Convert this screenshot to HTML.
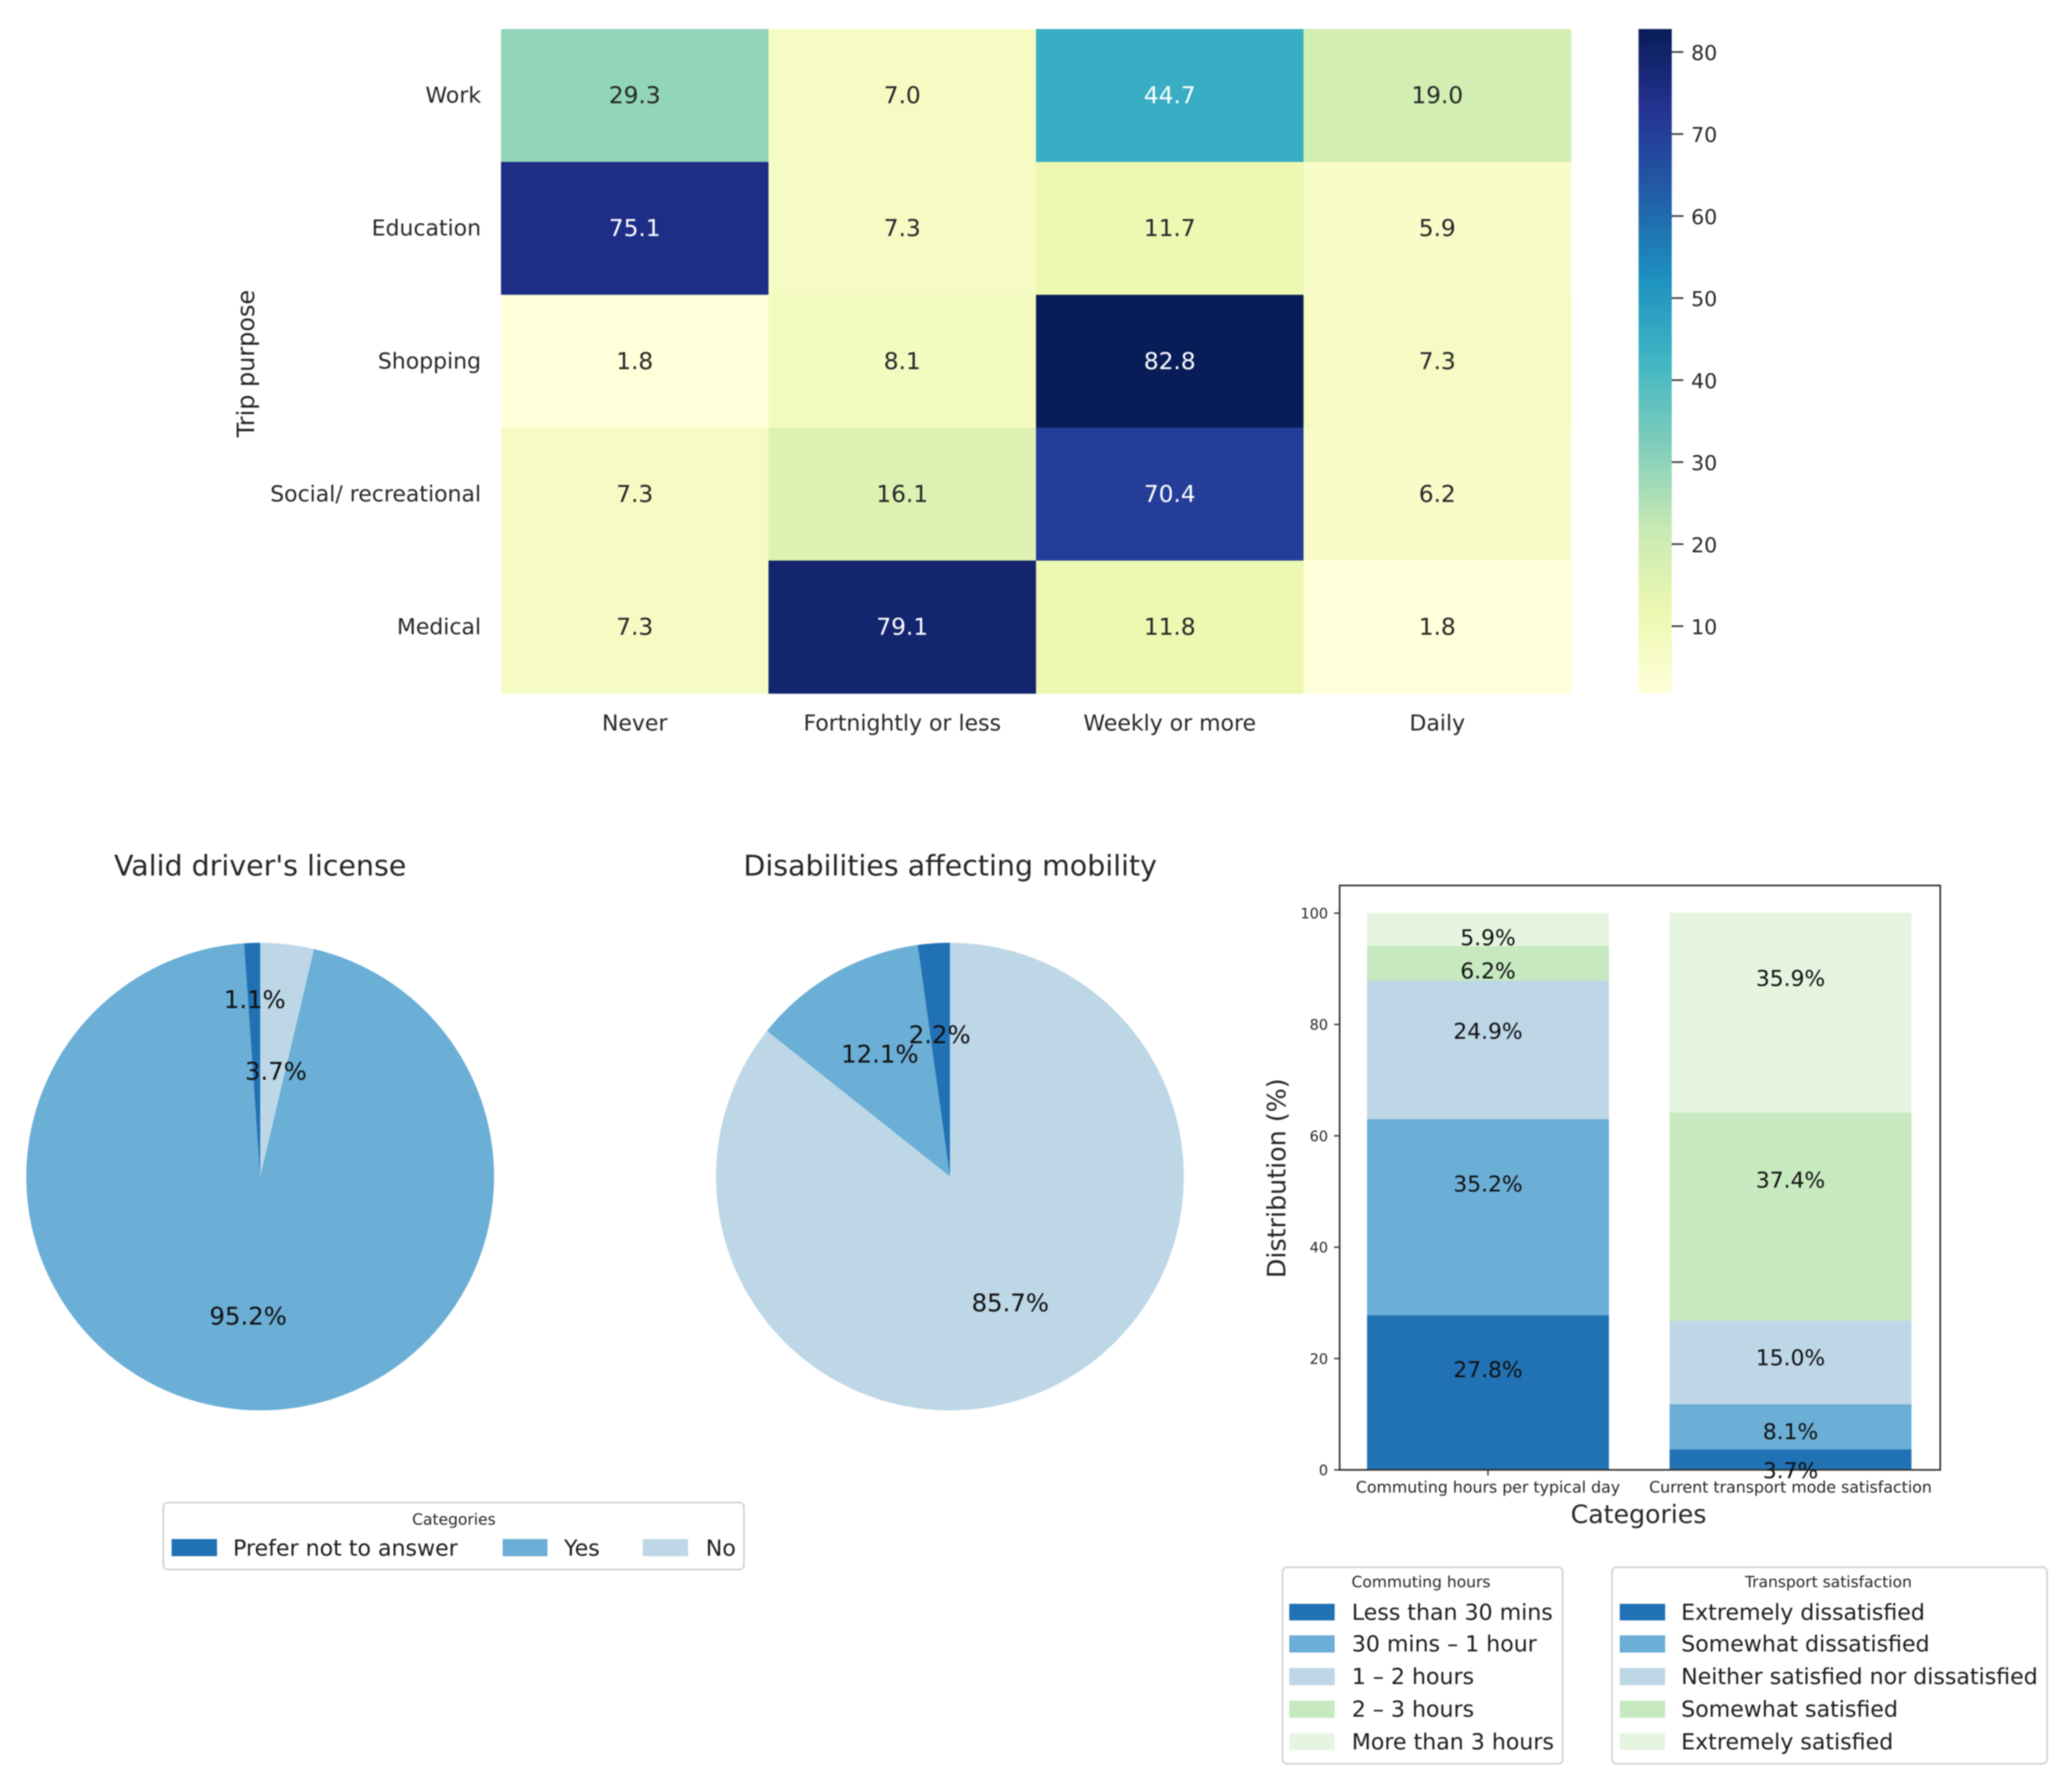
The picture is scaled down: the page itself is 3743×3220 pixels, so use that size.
<!DOCTYPE html>
<html lang="en">
<head>
<meta charset="utf-8">
<title>Trip purpose, license, disability, commuting and satisfaction charts</title>
<style>
html,body{margin:0;padding:0;background:#fff;}
svg{display:block;filter:blur(1px);}
text{font-family:"DejaVu Sans","Liberation Sans",sans-serif;fill:#262626;text-rendering:geometricPrecision;}
.leg{font-size:39.9px;fill:#1c1c1c;}
.legt{font-size:28px;fill:#262626;text-anchor:middle;}
.box{fill:#fff;stroke:#d2d2d2;stroke-width:3;}
</style>
</head>
<body>
<svg id="root" xmlns="http://www.w3.org/2000/svg" width="3743" height="3220" viewBox="0 0 3743 3220">
  <rect x="0" y="0" width="3743" height="3220" fill="#ffffff"/>

  <g id="heatmap"></g>
  <text transform="translate(459,657) rotate(-90)" text-anchor="middle" font-size="43.2">Trip purpose</text>
  <g id="colorbar"></g>

  <text x="470" y="1582" text-anchor="middle" font-size="51.4" fill="#111">Valid driver's license</text>
  <g id="pie-license"></g>
  <text x="1716.5" y="1582" text-anchor="middle" font-size="51.4" fill="#111">Disabilities affecting mobility</text>
  <g id="pie-mobility"></g>

  <g>
    <rect class="box" x="295" y="2715" width="1049" height="121" rx="8"/>
    <text class="legt" x="820" y="2755">Categories</text>
    <rect x="310" y="2781" width="82" height="31" fill="#2171b5"/>
    <text class="leg" x="421" y="2811">Prefer not to answer</text>
    <rect x="908" y="2781" width="81" height="31" fill="#6baed6"/>
    <text class="leg" x="1019" y="2811">Yes</text>
    <rect x="1161" y="2781" width="82" height="31" fill="#bdd7e7"/>
    <text class="leg" x="1275" y="2811">No</text>
  </g>

  <g id="bars"></g>
  <text transform="translate(2322,2129) rotate(-90)" text-anchor="middle" font-size="45.8">Distribution (%)</text>
  <text x="2960" y="2752" text-anchor="middle" font-size="45.5">Categories</text>

  <g>
    <rect class="box" x="2317" y="2832" width="506" height="355" rx="8"/>
    <text class="legt" x="2567" y="2868">Commuting hours</text>
    <rect x="2329" y="2898" width="82" height="30" fill="#2171b5"/>
    <text class="leg" x="2442" y="2927">Less than 30 mins</text>
    <rect x="2329" y="2955" width="82" height="31" fill="#6baed6"/>
    <text class="leg" x="2442" y="2984">30 mins – 1 hour</text>
    <rect x="2329" y="3014" width="82" height="31" fill="#bdd7e7"/>
    <text class="leg" x="2442" y="3043">1 – 2 hours</text>
    <rect x="2329" y="3073" width="82" height="31" fill="#c7e9c0"/>
    <text class="leg" x="2442" y="3102">2 – 3 hours</text>
    <rect x="2329" y="3132" width="82" height="30" fill="#e5f5e0"/>
    <text class="leg" x="2442" y="3161">More than 3 hours</text>
  </g>

  <g>
    <rect class="box" x="2912" y="2832" width="786" height="355" rx="8"/>
    <text class="legt" x="3303" y="2868">Transport satisfaction</text>
    <rect x="2926" y="2898" width="82" height="30" fill="#2171b5"/>
    <text class="leg" x="3037" y="2927">Extremely dissatisfied</text>
    <rect x="2926" y="2955" width="82" height="31" fill="#6baed6"/>
    <text class="leg" x="3037" y="2984">Somewhat dissatisfied</text>
    <rect x="2926" y="3014" width="82" height="31" fill="#bdd7e7"/>
    <text class="leg" x="3037" y="3043">Neither satisfied nor dissatisfied</text>
    <rect x="2926" y="3073" width="82" height="31" fill="#c7e9c0"/>
    <text class="leg" x="3037" y="3102">Somewhat satisfied</text>
    <rect x="2926" y="3132" width="82" height="30" fill="#e5f5e0"/>
    <text class="leg" x="3037" y="3161">Extremely satisfied</text>
  </g>
</svg>

<script>
const heatRowLabels = ["Work", "Education", "Shopping", "Social/ recreational", "Medical"];
const heatColLabels = ["Never", "Fortnightly or less", "Weekly or more", "Daily"];
const heatValues = [
  [29.3, 7.0, 44.7, 19.0],
  [75.1, 7.3, 11.7, 5.9],
  [1.8, 8.1, 82.8, 7.3],
  [7.3, 16.1, 70.4, 6.2],
  [7.3, 79.1, 11.8, 1.8]
];
const colorbarTicks = [10, 20, 30, 40, 50, 60, 70, 80];
const licenseValues = [1.1, 95.2, 3.7];
const mobilityValues = [2.2, 12.1, 85.7];
const barCategories = ["Commuting hours per typical day", "Current transport mode satisfaction"];
const commutingValues = [27.8, 35.2, 24.9, 6.2, 5.9];
const satisfactionValues = [3.7, 8.1, 15.0, 37.4, 35.9];
const barTicks = [0, 20, 40, 60, 80, 100];

const NS = "http://www.w3.org/2000/svg";
const ylgnbu = ["#ffffd9", "#edf8b1", "#c7e9b4", "#7fcdbb", "#41b6c4", "#1d91c0", "#225ea8", "#253494", "#081d58"];
const sliceColors = ["#2171b5", "#6baed6", "#bdd7e7", "#c7e9c0", "#e5f5e0"];

function mk(parent, tag, attrs, txt) {
  const el = document.createElementNS(NS, tag);
  for (const k in attrs) el.setAttribute(k, attrs[k]);
  if (txt !== undefined) el.textContent = txt;
  parent.appendChild(el);
  return el;
}
function hexRgb(h) {
  return [parseInt(h.slice(1, 3), 16), parseInt(h.slice(3, 5), 16), parseInt(h.slice(5, 7), 16)];
}

/* ---------- heatmap ---------- */
const heatFlat = heatValues.flat();
const heatMin = Math.min.apply(null, heatFlat);
const heatMax = Math.max.apply(null, heatFlat);
function heatRgb(v) {
  const t = Math.max(0, Math.min(1, (v - heatMin) / (heatMax - heatMin))) * (ylgnbu.length - 1);
  const i = Math.min(Math.floor(t), ylgnbu.length - 2);
  const f = t - i;
  const a = hexRgb(ylgnbu[i]);
  const b = hexRgb(ylgnbu[i + 1]);
  return a.map(function (c, k) { return Math.round(c + (b[k] - c) * f); });
}
function luminance(rgb) {
  const c = rgb.map(function (x) {
    const s = x / 255;
    return s <= 0.03928 ? s / 12.92 : Math.pow((s + 0.055) / 1.055, 2.4);
  });
  return 0.2126 * c[0] + 0.7152 * c[1] + 0.0722 * c[2];
}
const heatX = function (i) { return 905 + i * (2838 - 905) / heatColLabels.length; };
const heatY = function (i) { return 52.5 + i * (1253 - 52.5) / heatRowLabels.length; };
const gHeat = document.getElementById("heatmap");

heatValues.forEach(function (row, r) {
  row.forEach(function (v, c) {
    const rgb = heatRgb(v);
    const cell = mk(gHeat, "rect", {
      x: heatX(c), y: heatY(r),
      width: heatX(c + 1) - heatX(c) + 0.5, height: heatY(r + 1) - heatY(r) + 0.5,
      fill: "rgb(" + rgb.join(",") + ")"
    });
    
    
    const label = mk(gHeat, "text", {
      x: (heatX(c) + heatX(c + 1)) / 2,
      y: (heatY(r) + heatY(r + 1)) / 2 + 14,
      "text-anchor": "middle", "font-size": 42,
      style: "fill:" + (luminance(rgb) < 0.408 ? "#ffffff" : "#262626")
    }, v.toFixed(1));
    
    
  });
});
heatRowLabels.forEach(function (name, r) {
  const t = mk(gHeat, "text", {
    x: 869, y: (heatY(r) + heatY(r + 1)) / 2 + 13,
    "text-anchor": "end", "font-size": 39.7
  }, name);
  
  
});
heatColLabels.forEach(function (name, c) {
  const t = mk(gHeat, "text", {
    x: (heatX(c) + heatX(c + 1)) / 2, y: 1320,
    "text-anchor": "middle", "font-size": 39.7
  }, name);
  
  
});

/* ---------- colorbar ---------- */
const gBar = document.getElementById("colorbar");
const cbTop = 52.5, cbBottom = 1253, cbLeft = 2960, cbRight = 3020;
const cbY = function (v) { return cbBottom - (v - heatMin) / (heatMax - heatMin) * (cbBottom - cbTop); };
const defs = mk(gBar, "defs", {});
const grad = mk(defs, "linearGradient", { id: "cbGrad", x1: 0, y1: 1, x2: 0, y2: 0 });
ylgnbu.forEach(function (c, i) {
  mk(grad, "stop", { offset: i / (ylgnbu.length - 1), "stop-color": c });
});
const cbRect = mk(gBar, "rect", {
  x: cbLeft, y: cbTop, width: cbRight - cbLeft, height: cbBottom - cbTop, fill: "url(#cbGrad)"
});


colorbarTicks.forEach(function (v) {
  const tick = mk(gBar, "line", {
    x1: cbRight, x2: cbRight + 21, y1: cbY(v), y2: cbY(v), stroke: "#3a3a3a", "stroke-width": 3
  });
  
  
  const t = mk(gBar, "text", { x: 3055, y: cbY(v) + 14.5, "font-size": 37 }, String(v));
  
  
});

/* ---------- pies ---------- */
function drawPie(groupId, values, cx, colors, labelNudges) {
  const g = document.getElementById(groupId);
  const cy = 2126, r = 422.5;
  const total = values.reduce(function (a, b) { return a + b; }, 0);
  const pt = function (deg, rad) {
    const a = deg * Math.PI / 180;
    return [cx - rad * Math.sin(a), cy - rad * Math.cos(a)];
  };
  let start = 0;
  const mids = [];
  values.forEach(function (v, i) {
    const sweep = v / total * 360;
    const end = start + sweep;
    const p0 = pt(start, r), p1 = pt(end, r);
    const slice = mk(g, "path", {
      d: "M" + cx + " " + cy + "L" + p0[0] + " " + p0[1] +
         "A" + r + " " + r + " 0 " + (sweep > 180 ? 1 : 0) + " 0 " + p1[0] + " " + p1[1] + "Z",
      fill: colors[i]
    });
    
    
    mids.push(start + sweep / 2);
    start = end;
  });
  values.forEach(function (v, i) {
    const p = pt(mids[i], r * 0.6);
    const t = mk(g, "text", {
      x: p[0] - 1, y: p[1] + 15 + labelNudges[i],
      "text-anchor": "middle", "font-size": 44, style: "fill:#111"
    }, v.toFixed(1) + "%");
    
    
  });
}
drawPie("pie-license", licenseValues, 470, sliceColors, [-66, 0, 62]);
drawPie("pie-mobility", mobilityValues, 1716, sliceColors, [-3, -1, 0]);

/* ---------- stacked bars ---------- */
const gBars = document.getElementById("bars");
const barX = function (i) { return 2688 + i * 546.5; };
const barY = function (v) { return 2656 - v * 10.06; };
const barWidth = 437;
[commutingValues, satisfactionValues].forEach(function (series, b) {
  let cum = 0;
  series.forEach(function (v, s) {
    const seg = mk(gBars, "rect", {
      x: barX(b) - barWidth / 2, y: barY(cum + v),
      width: barWidth, height: barY(cum) - barY(cum + v), fill: sliceColors[s]
    });
    
    
    cum += v;
  });
});
const frame = mk(gBars, "rect", {
  x: 2420, y: 1600, width: 1085, height: 1056, fill: "none", stroke: "#333333", "stroke-width": 3
});


barTicks.forEach(function (v) {
  const tick = mk(gBars, "line", {
    x1: 2410, x2: 2420, y1: barY(v), y2: barY(v), stroke: "#333333", "stroke-width": 2.5
  });
  
  
  const t = mk(gBars, "text", {
    x: 2399, y: barY(v) + 9.5, "text-anchor": "end", "font-size": 26
  }, String(v));
  
  
});
barCategories.forEach(function (name, b) {
  const tick = mk(gBars, "line", {
    x1: barX(b), x2: barX(b), y1: 2656, y2: 2666, stroke: "#333333", "stroke-width": 2.5
  });
  
  
  const t = mk(gBars, "text", {
    x: barX(b), y: 2697, "text-anchor": "middle", "font-size": 28.5
  }, name);
  
  
});
[commutingValues, satisfactionValues].forEach(function (series, b) {
  let cum = 0;
  series.forEach(function (v, s) {
    const t = mk(gBars, "text", {
      x: barX(b), y: barY(cum + 0.753 * v - 2.7) + 16,
      "text-anchor": "middle", "font-size": 39.4, style: "fill:#111"
    }, v.toFixed(1) + "%");
    
    
    cum += v;
  });
});
</script>
</body>
</html>
